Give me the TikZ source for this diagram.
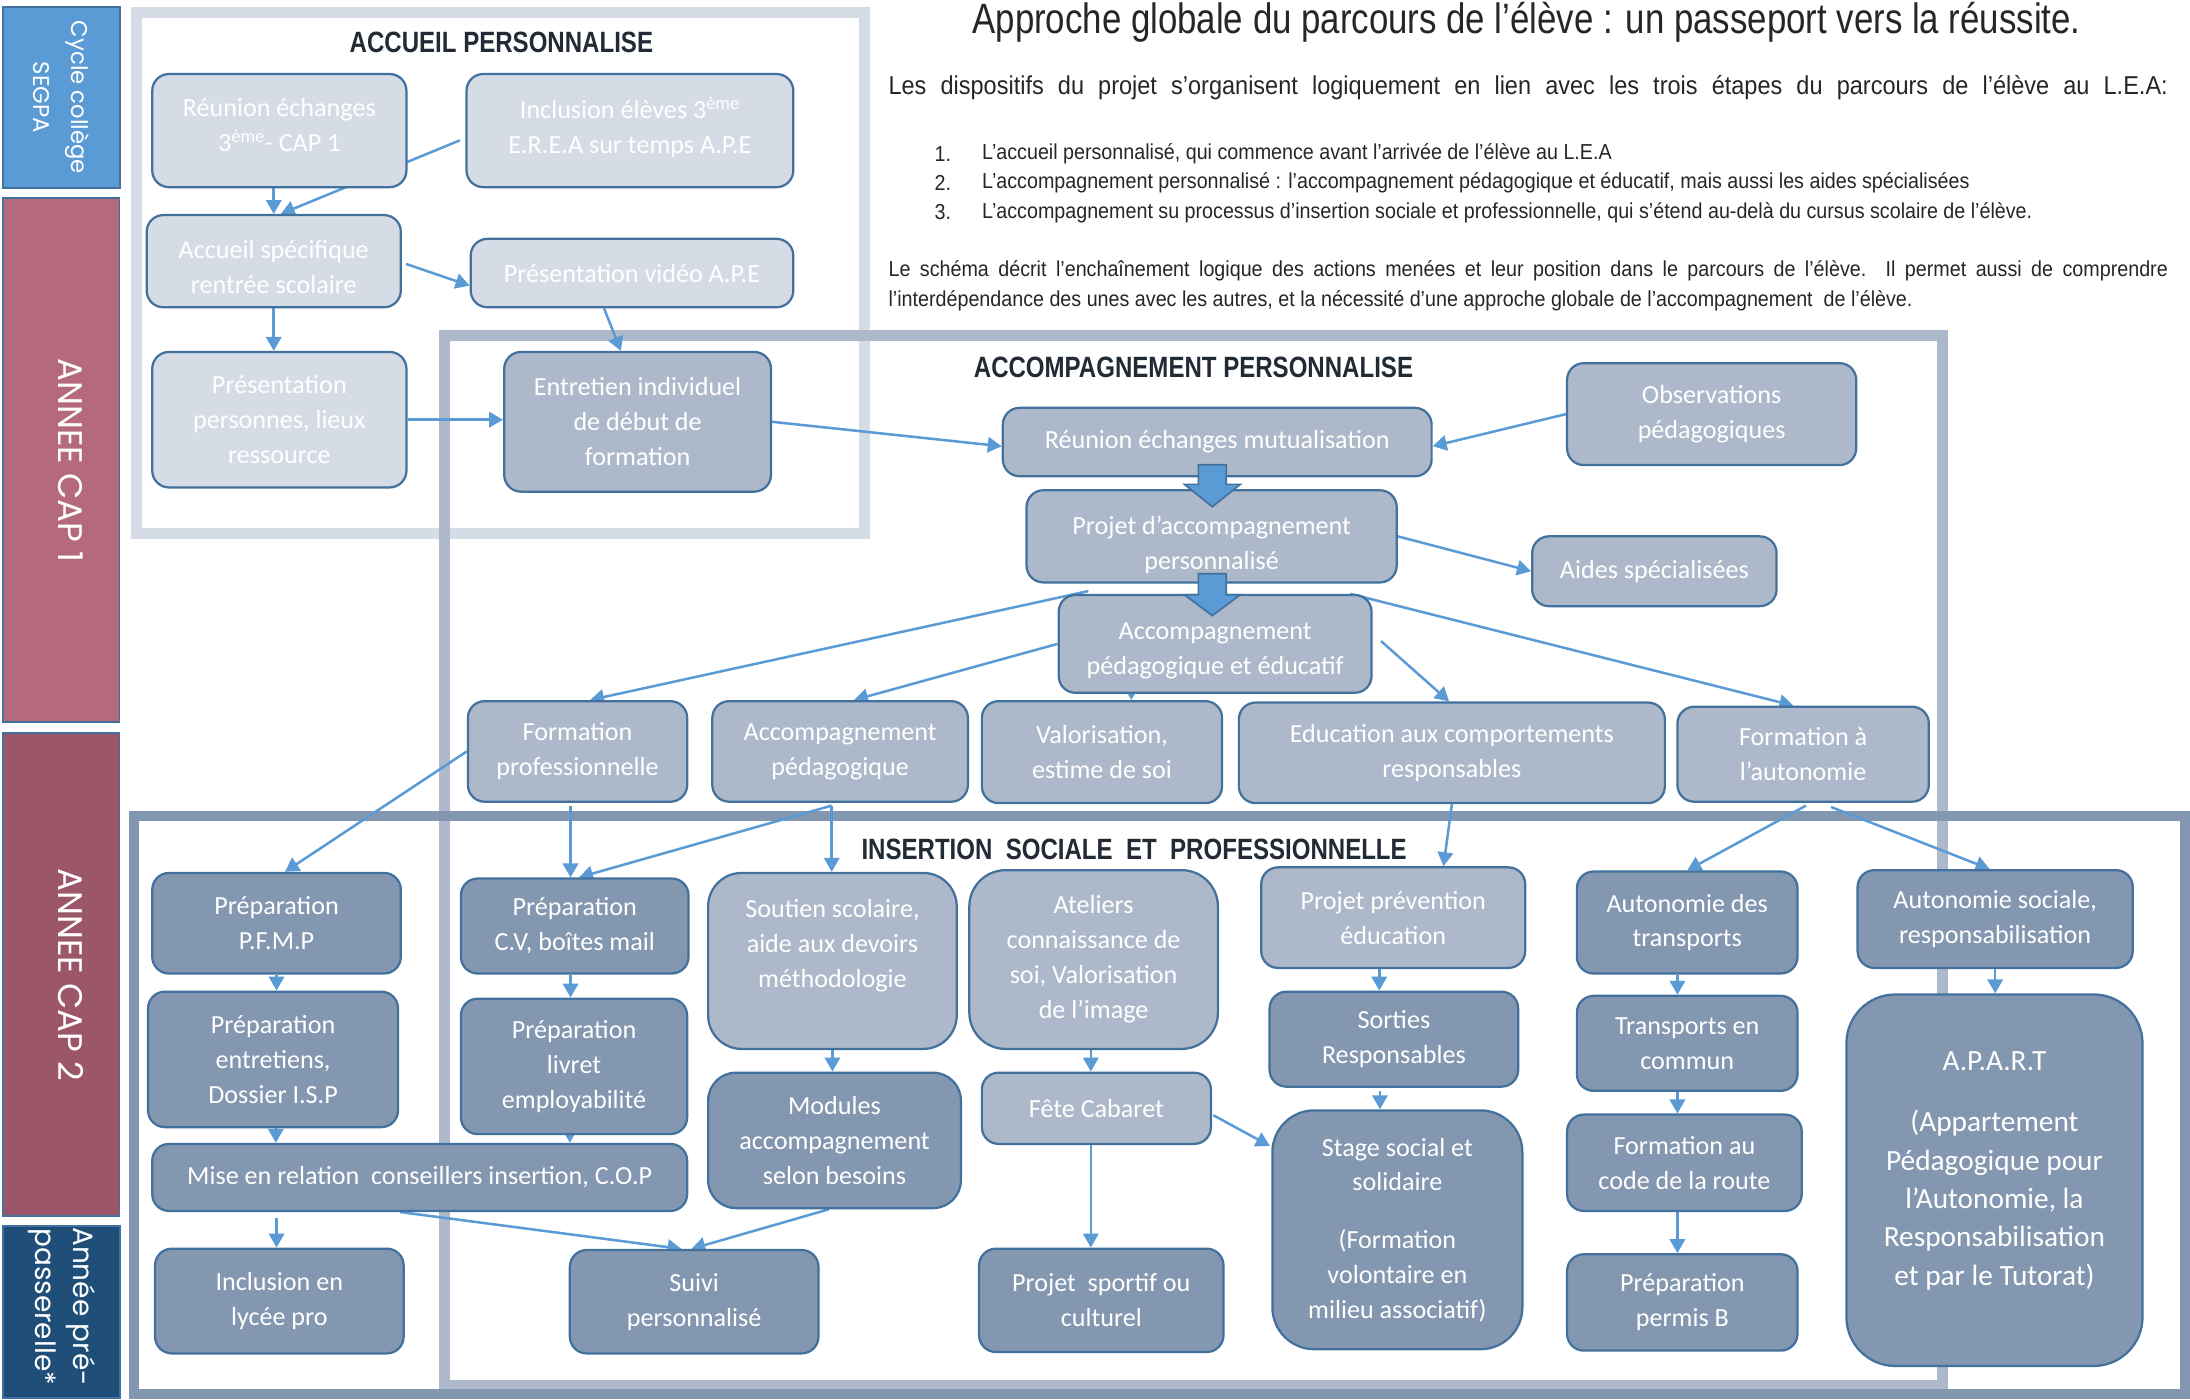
\documentclass[tikz,border=0pt]{standalone}
\usepackage{fontspec}
\setmainfont{Carlito}
\newfontfamily\narrowfont[FakeStretch=0.82]{Liberation Sans}
\newfontfamily\bodyfont[FakeStretch=0.91]{Liberation Sans}
\newfontfamily\sidefont{Poppins}
\usetikzlibrary{arrows.meta,calc}
\definecolor{paleblue}{HTML}{D6DCE5}
\definecolor{midblue}{HTML}{ADB9CA}
\definecolor{deepblue}{HTML}{8497B0}
\definecolor{edgeblue}{HTML}{41719C}
\definecolor{arrowblue}{HTML}{5B9BD5}
\definecolor{headnavy}{HTML}{222A35}
\definecolor{textgray}{HTML}{262626}
\definecolor{segpablue}{HTML}{5B9BD5}
\definecolor{caproseone}{HTML}{B4697D}
\definecolor{caprosetwo}{HTML}{9C5669}
\definecolor{passnavy}{HTML}{1F4E79}
\pgfdeclarelayer{frames}
\pgfdeclarelayer{edges}
\pgfsetlayers{frames,edges,main}

\begin{document}
\begin{tikzpicture}[x=1pt,y=1pt,
	box/.style={rectangle,rounded corners=12pt,draw=edgeblue,line width=1.6pt,text=white,align=center,inner sep=0pt,font=\fontsize{18.7}{25}\selectfont},
	palebox/.style={box,fill=paleblue},
	midbox/.style={box,fill=midblue},
	deepbox/.style={box,fill=deepblue},
	sz/.style 2 args={minimum width=#1,minimum height=#2},
	sidebox/.style={rectangle,draw=edgeblue,line width=1.2pt,inner sep=0pt},
	sidelabel/.style={rotate=-90,text=white,align=center,inner sep=0pt,font=\sidefont\fontsize{#1}{27}\selectfont},
	sectitle/.style={inner sep=0pt,text=headnavy,font=\narrowfont\bfseries\fontsize{21}{24}\selectfont},
	bodytext/.style={anchor=west,text=textgray,inner sep=0pt,font=\bodyfont\fontsize{15.5}{19}\selectfont},
	arr/.style={draw=arrowblue,line width=1.8pt,-{Triangle[length=10pt,width=11pt]}},
	fatarrow/.style={fill=arrowblue,draw=edgeblue,line width=1.2pt},
	band/.style={line width=8pt}]
	\useasboundingbox (0,0) rectangle (1568,-1002);
	
	\begin{pgfonlayer}{frames}
	\fill[white] (0,0) rectangle (1568,-1002);
	\draw[band,draw=paleblue] (98,-9) rectangle (619,-382);
	\draw[band,draw=midblue] (318.5,-240) rectangle (1390.5,-992);
	\draw[band,line width=7pt,draw=deepblue] (96,-584.5) rectangle (1564.5,-998);
	\end{pgfonlayer}
	
	\node[sidebox,fill=segpablue,sz={84}{130}] (segpa) at (44,-69.8) {};
	\node[sidebox,fill=caproseone,sz={83.5}{375}] (capone) at (43.75,-329.5) {};
	\node[sidebox,fill=caprosetwo,sz={83.5}{345.5}] (captwo) at (43.75,-697.75) {};
	\node[sidebox,fill=passnavy,sz={84}{123}] (passerelle) at (44,-939.5) {};
	\node[sidelabel=16.3] (segpatxt) at (segpa.center) {Cycle collège\\SEGPA};
	\node[sidelabel=24.4] (caponetxt) at ($(capone.center)+(7,0)$) {ANNEE CAP 1};
	\node[sidelabel=24.4] (captwotxt) at ($(captwo.center)+(7,0)$) {ANNEE CAP 2};
	\node[sidelabel=20] (passerelletxt) at ($(passerelle.center)+(0,4)$) {Année pré-\\passerelle*};
	
	\node[anchor=base,text=textgray,inner sep=0pt,font=\narrowfont\fontsize{30.4}{34}\selectfont] (titre) at (1093,-24) {Approche globale du parcours de l’élève : un passeport vers la réussite.};
	\node[bodytext,font=\bodyfont\fontsize{18.5}{23}\selectfont] (intro) at (636,-63) {\makebox[916pt][s]{Les dispositifs du projet s’organisent logiquement en lien avec les trois étapes du parcours de l’élève au L.E.A:}};
	\node[bodytext] (numone) at (669,-110) {1.};
	\node[bodytext] (itemone) at (703,-110) {L’accueil personnalisé, qui commence avant l’arrivée de l’élève au L.E.A};
	\node[bodytext] (numtwo) at (669,-131) {2.};
	\node[bodytext] (itemtwo) at (703,-131) {L’accompagnement personnalisé : l’accompagnement pédagogique et éducatif, mais aussi les aides spécialisées};
	\node[bodytext] (numthree) at (669,-152) {3.};
	\node[bodytext] (itemthree) at (703,-152) {L’accompagnement su processus d’insertion sociale et professionnelle, qui s’étend au-delà du cursus scolaire de l’élève.};
	\node[bodytext,anchor=north west,text width=916pt,align=justify,font=\bodyfont\fontsize{15.5}{22}\selectfont] (schema) at (636,-186) {Le schéma décrit l’enchaînement logique des actions menées et leur position dans le parcours de l’élève. Il permet aussi de comprendre\linebreak l’interdépendance des unes avec les autres, et la nécessité d’une approche globale de l’accompagnement\ \ de l’élève.};
	
	\node[sectitle] (titaccueil) at (359,-30) {ACCUEIL PERSONNALISE};
	\node[sectitle] (titaccomp) at (854.5,-263) {ACCOMPAGNEMENT PERSONNALISE};
	\node[sectitle] (titinsertion) at (812,-608) {INSERTION\ \ SOCIALE\ \ ET\ \ PROFESSIONNELLE};
	
	\node[palebox,sz={182}{81}] (reunion) at (200,-93.5) {Réunion échanges\\3\textsuperscript{ème}- CAP 1\\[-17pt]\mbox{}};
	\node[palebox,sz={234}{81}] (inclusion) at (451,-93.5) {Inclusion élèves 3\textsuperscript{ème}\\E.R.E.A sur temps A.P.E\\[-17pt]\mbox{}};
	\node[palebox,sz={182}{66}] (accspec) at (196,-187) {\rule{0pt}{22pt}Accueil spécifique\\rentrée scolaire};
	\node[palebox,sz={231}{49}] (video) at (452.5,-195.5) {Présentation vidéo A.P.E};
	\node[palebox,sz={182}{97}] (presentation) at (200,-300.5) {Présentation\\personnes, lieux\\ressource};
	\node[midbox,sz={191}{100}] (entretien) at (456.5,-302) {Entretien individuel\\de début de\\formation};
	
	\node[midbox,sz={307}{49}] (reunionmut) at (871.5,-316.5) {Réunion échanges mutualisation};
	\node[midbox,sz={207}{73}] (observations) at (1225.5,-296.5) {Observations\\pédagogiques};
	\node[midbox,sz={265}{66}] (projet) at (867.5,-384) {\rule{0pt}{26pt}Projet d’accompagnement\\personnalisé};
	\node[midbox,sz={175}{50}] (aides) at (1184.5,-409) {Aides spécialisées};
	\node[midbox,sz={224}{70}] (accpededuc) at (870,-461) {\rule{0pt}{22pt}Accompagnement\\pédagogique et éducatif};
	\node[midbox,sz={157}{72}] (formpro) at (413.5,-538) {Formation\\professionnelle};
	\node[midbox,sz={183}{72}] (accped) at (601.5,-538) {Accompagnement\\pédagogique};
	\node[midbox,sz={172}{73}] (valor) at (789,-538.5) {Valorisation,\\estime de soi};
	\node[midbox,sz={305}{72}] (educomp) at (1039.5,-539) {Education aux comportements\\responsables};
	\node[midbox,sz={180}{68}] (formauto) at (1291,-540) {Formation à\\l’autonomie};
	
	\node[deepbox,sz={178}{72}] (pfmp) at (198,-661) {Préparation\\P.F.M.P};
	\node[deepbox,sz={179}{97}] (prepent) at (195.5,-758.5) {Préparation\\entretiens,\\Dossier I.S.P};
	\node[deepbox,sz={383}{48}] (miseenrel) at (300.5,-843) {Mise en relation\ \ conseillers insertion, C.O.P};
	\node[deepbox,sz={178}{75}] (inclusionlp) at (200,-931.5) {Inclusion en\\lycée pro};
	\node[deepbox,sz={163}{68}] (prepcv) at (411.5,-663) {Préparation\\C.V, boîtes mail};
	\node[deepbox,sz={162}{97}] (preplivret) at (411,-763.5) {Préparation\\livret\\employabilité};
	\node[deepbox,sz={178}{74}] (suivi) at (497,-932) {Suivi\\personnalisé};
	\node[midbox,rounded corners=24pt,sz={178}{126}] (soutien) at (596,-688) {Soutien scolaire,\\aide aux devoirs\\méthodologie\\\mbox{}};
	\node[deepbox,rounded corners=20pt,sz={181}{97}] (modules) at (597.5,-816.5) {Modules\\accompagnement\\selon besoins};
	\node[midbox,rounded corners=26pt,sz={178}{128}] (ateliers) at (783,-687) {Ateliers\\connaissance de\\soi, Valorisation\\de l’image};
	\node[midbox,sz={164}{51}] (fete) at (785,-793.5) {Fête Cabaret};
	\node[deepbox,sz={175}{74}] (projsport) at (788.5,-931) {Projet\ \ sportif ou\\culturel};
	\node[midbox,sz={189}{72}] (projprev) at (997.5,-657) {Projet prévention\\éducation};
	\node[deepbox,sz={178}{68}] (sorties) at (998,-744) {Sorties\\Responsables};
	\node[deepbox,rounded corners=30pt,sz={179}{171}] (stage) at (1000.5,-880.5) {Stage social et\\solidaire\\[16pt](Formation\\volontaire en\\milieu associatif)};
	\node[deepbox,sz={158}{73}] (autotrans) at (1208,-660.5) {Autonomie des\\transports};
	\node[deepbox,sz={158}{68}] (transcommun) at (1208,-747) {Transports en\\commun};
	\node[deepbox,sz={168}{69}] (code) at (1206,-832.5) {Formation au\\code de la route};
	\node[deepbox,sz={165}{69}] (permis) at (1204.5,-932.5) {Préparation\\permis B};
	\node[deepbox,sz={197}{70}] (autosoc) at (1428.5,-658) {Autonomie sociale,\\responsabilisation};
	\node[deepbox,rounded corners=35pt,sz={212}{266},font=\fontsize{21}{27.5}\selectfont] (apart) at (1428,-845) {A.P.A.R.T\\[16pt](Appartement\\Pédagogique pour\\l’Autonomie, la\\Responsabilisation\\et par le Tutorat)\\[-11pt]\mbox{}};
	
	\begin{pgfonlayer}{edges}
	\draw[arr] (accspec.north |- reunion.south) -- (accspec.north);
	\draw[arr] ($(inclusion.west)+(-4,-7)$) -- ($(accspec.north)+(5,0)$);
	\draw[arr] ($(accspec.east)+(3,-2)$) -- ($(video.west)+(0,-9)$);
	\draw[arr] (accspec.south) -- (accspec.south |- presentation.north);
	\draw[arr] ($(video.south)+(-20,0)$) -- ($(entretien.north)+(-12,0)$);
	\draw[arr] (presentation.east) -- (presentation.east -| entretien.west);
	\draw[arr] (entretien.east) -- ($(reunionmut.west)+(0,-3)$);
	\draw[arr] (observations.west) -- ($(reunionmut.east)+(0,-3)$);
	\draw[arr] (projet.east) -- (aides.west);
	\draw[arr] ($(accpededuc.north west)+(22,2)$) -- ($(formpro.north)+(9,0)$);
	\draw[arr] (accpededuc.west) -- ($(accped.north)+(10,0)$);
	\draw[arr] ($(valor.north |- accpededuc.south)+(21,1)$) -- ($(valor.north)+(21,0)$);
	\draw[arr] ($(accpededuc.east)+(6,2)$) -- ($(educomp.north)+(-2,0)$);
	\draw[arr] ($(accpededuc.north east)+(-16,0)$) -- ($(formauto.north)+(-7,0)$);
	\draw[arr] (formpro.west) -- ($(pfmp.north)+(6,0)$);
	\draw[arr] ($(formpro.south)+(-5,-2)$) -- ($(formpro.south |- prepcv.north)+(-5,0)$);
	\draw[arr] ($(accped.south)+(-6,-2)$) -- ($(prepcv.north)+(3,0)$);
	\draw[arr] ($(accped.south)+(-6,-2)$) -- ($(accped.south |- soutien.north)+(-6,0)$);
	\draw[arr] (educomp.south) -- ($(projprev.north)+(36,0)$);
	\draw[arr] ($(formauto.south)+(2,-2)$) -- (autotrans.north);
	\draw[arr] ($(formauto.south)+(20,-3)$) -- ($(autosoc.north)+(-4,0)$);
	\draw[arr] (pfmp.south) -- (pfmp.south |- prepent.north);
	\draw[arr] ($(prepent.south)+(2,0)$) -- ($(prepent.south |- miseenrel.north)+(2,0)$);
	\draw[arr] ($(prepcv.south)+(-3,0)$) -- ($(prepcv.south |- preplivret.north)+(-3,0)$);
	\draw[arr] ($(preplivret.south)+(-3,0)$) -- ($(preplivret.south |- miseenrel.north)+(-3,0)$);
	\draw[arr] ($(inclusionlp.north |- miseenrel.south)+(-2,-4)$) -- ($(inclusionlp.north)+(-2,0)$);
	\draw[arr] ($(miseenrel.south)+(-14,0)$) -- ($(suivi.north)+(-9,0)$);
	\draw[arr] ($(modules.south)+(-4,0)$) -- ($(suivi.north)+(-2,0)$);
	\draw[arr] (soutien.south) -- (soutien.south |- modules.north);
	\draw[arr] ($(ateliers.south)+(-2,0)$) -- ($(ateliers.south |- fete.north)+(-2,0)$);
	\draw[arr] ($(fete.south)+(-4,0)$) -- ($(fete.south |- projsport.north)+(-4,0)$);
	\draw[arr] ($(fete.east)+(1,-5)$) -- ($(stage.west)+(-1,60)$);
	\draw[arr] ($(projprev.south)+(-10,0)$) -- ($(projprev.south |- sorties.north)+(-10,0)$);
	\draw[arr] ($(sorties.south)+(-10,-2)$) -- ($(sorties.south |- stage.north)+(-10,0)$);
	\draw[arr] ($(autotrans.south)+(-7,0)$) -- ($(autotrans.south |- transcommun.north)+(-7,0)$);
	\draw[arr] ($(transcommun.south)+(-7,0)$) -- ($(transcommun.south |- code.north)+(-7,0)$);
	\draw[arr] ($(code.south)+(-5,0)$) -- ($(code.south |- permis.north)+(-5,0)$);
	\draw[arr] (autosoc.south) -- (autosoc.south |- apart.north);
	\end{pgfonlayer}
	
	\draw[fatarrow] ($(reunionmut.south)+(-13.5,9)$) -- ++(20,0) -- ++(0,-14) -- ++(10,0) -- ++(-20,-16) -- ++(-20,16) -- ++(10,0) -- cycle;
	\draw[fatarrow] ($(projet.south)+(-9.5,7)$) -- ++(20,0) -- ++(0,-15) -- ++(10,0) -- ++(-20,-15) -- ++(-20,15) -- ++(10,0) -- cycle;
	
	\end{tikzpicture}
\end{document}
